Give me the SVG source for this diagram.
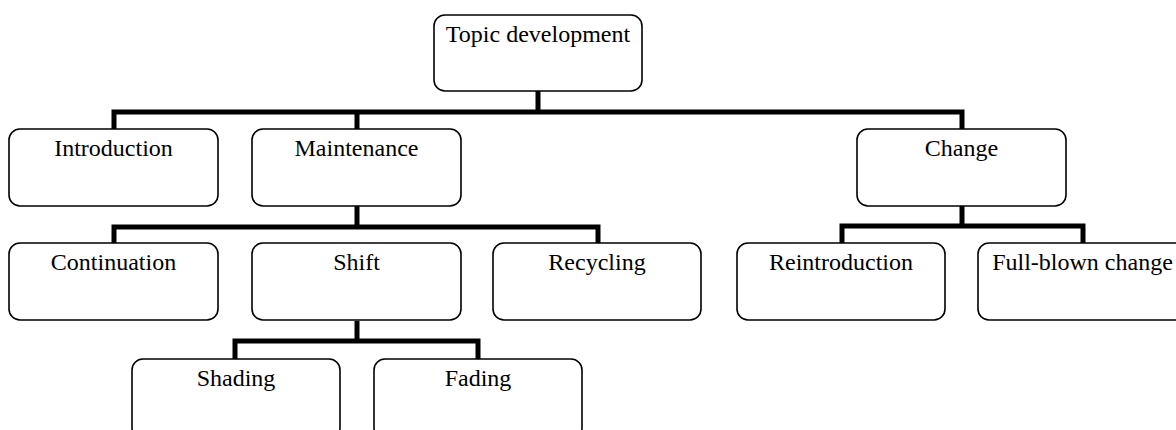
<svg xmlns="http://www.w3.org/2000/svg" width="1176" height="430" viewBox="0 0 1176 430">
<style>
.box{fill:#fff;stroke:#000;stroke-width:1.6}
.lbl{font-family:"Liberation Serif","Times New Roman",serif;font-size:24px;fill:#000;text-anchor:middle}
.con{fill:none;stroke:#000;stroke-width:5;stroke-linejoin:miter;stroke-linecap:butt}
</style>
<rect width="1176" height="430" fill="#fff"/>
<g id="connectors">
<path class="con" d="M538,91 V112 M114,129 V112 H962 V129 M357,112 V129"/>
<path class="con" d="M357,206 V227 M114,243 V227 H598 V243"/>
<path class="con" d="M962,206 V226 M842,243 V226 H1083 V243"/>
<path class="con" d="M357,321 V341 M235,359 V341 H478 V359"/>
</g>
<g id="topic"><rect class="box" x="434" y="15" width="208" height="76" rx="11"/><text class="lbl" x="538" y="42">Topic development</text></g>
<g id="introduction"><rect class="box" x="9" y="129" width="209" height="77" rx="11"/><text class="lbl" x="113.5" y="156">Introduction</text></g>
<g id="maintenance"><rect class="box" x="252" y="129" width="209" height="77" rx="11"/><text class="lbl" x="356.5" y="156">Maintenance</text></g>
<g id="change"><rect class="box" x="857" y="129" width="209" height="77" rx="11"/><text class="lbl" x="961.5" y="156">Change</text></g>
<g id="continuation"><rect class="box" x="9" y="243" width="209" height="77" rx="11"/><text class="lbl" x="113.5" y="270">Continuation</text></g>
<g id="shift"><rect class="box" x="252" y="243" width="209" height="77" rx="11"/><text class="lbl" x="356.5" y="270">Shift</text></g>
<g id="recycling"><rect class="box" x="493" y="243" width="208" height="77" rx="11"/><text class="lbl" x="597" y="270">Recycling</text></g>
<g id="reintroduction"><rect class="box" x="737" y="243" width="208" height="77" rx="11"/><text class="lbl" x="841" y="270">Reintroduction</text></g>
<g id="fullblown"><rect class="box" x="978" y="243" width="209" height="77" rx="11"/><text class="lbl" x="1082.5" y="270">Full-blown change</text></g>
<g id="shading"><rect class="box" x="132" y="359" width="208" height="80" rx="11"/><text class="lbl" x="236" y="386">Shading</text></g>
<g id="fading"><rect class="box" x="374" y="359" width="208" height="80" rx="11"/><text class="lbl" x="478" y="386">Fading</text></g>
</svg>
